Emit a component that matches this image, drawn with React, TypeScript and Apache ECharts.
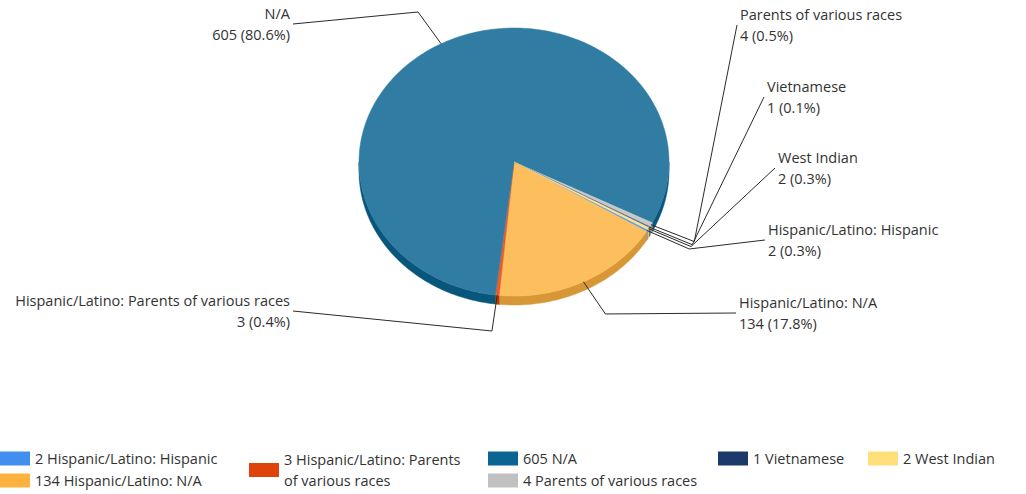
import React, { useEffect, useRef } from "react";
import * as echarts from "echarts";

// ---- data ----
const categories = [
  "Hispanic/Latino: Hispanic",
  "Hispanic/Latino: N/A",
  "Hispanic/Latino: Parents of various races",
  "N/A",
  "Parents of various races",
  "Vietnamese",
  "West Indian",
];
const values = [2, 134, 3, 605, 4, 1, 2];
const colors = ["#3f8ef0", "#fdb240", "#e0420c", "#0b6593", "#c0c0c0", "#1b3a6b", "#ffdf7a"];

// ---- layout (styling only) ----
const CX = 514;
const CY = 162;
const RX = 155;
const RY = 134;
const DEPTH = 9;
const START_ANGLE = 30.3; // screen degrees, clockwise from east
const ELBOW_RX = 204;
const ELBOW_RY = 170;
const labelAnchors: [number, number, "left" | "right"][] = [
  [765, 240, "right"],
  [736, 313, "right"],
  [293, 311, "left"],
  [293, 24, "left"],
  [737, 25, "right"],
  [764, 97, "right"],
  [775, 168, "right"],
];
const legendPos: [number, number][] = [
  [0, 448],
  [0, 470],
  [249, 449],
  [488, 448],
  [488, 470],
  [718, 448],
  [868, 448],
];
const FONT = "'Open Sans', 'Noto Sans', sans-serif";
const FONT_SIZE = 14.5;
const TEXT_COLOR = "#333333";

function hexToRgb(h: string) {
  const n = parseInt(h.slice(1), 16);
  return [(n >> 16) & 255, (n >> 8) & 255, n & 255];
}
function mix(h: string, target: number[], t: number) {
  const c = hexToRgb(h);
  const r = c.map((v, i) => Math.round(v + (target[i] - v) * t));
  return `rgb(${r[0]},${r[1]},${r[2]})`;
}

const total = values.reduce((a, b) => a + b, 0);
const cumulative = values.map((_, i) => values.slice(0, i).reduce((a, b) => a + b, 0));

function pt(deg: number, rx: number, ry: number, dy = 0): number[] {
  const r = (deg * Math.PI) / 180;
  return [CX + rx * Math.cos(r), CY + ry * Math.sin(r) + dy];
}
function arc(a: number, b: number, dy = 0): number[][] {
  const n = Math.max(2, Math.ceil(b - a) + 1);
  const out: number[][] = [];
  for (let k = 0; k < n; k++) {
    out.push(pt(a + ((b - a) * k) / (n - 1), RX, RY, dy));
  }
  return out;
}

function wrapLegend(text: string, maxChars: number) {
  if (text.length <= maxChars) return text;
  const words = text.split(" ");
  let line = "";
  const lines: string[] = [];
  for (const w of words) {
    const next = line ? line + " " + w : w;
    if (next.length > maxChars && line) {
      lines.push(line);
      line = w;
    } else {
      line = next;
    }
  }
  if (line) lines.push(line);
  return lines.join("\n");
}

function makeRenderItem(i: number) {
  return (_params: any, api: any) => {
    const v = api.value(0) as number;
    const a0 = START_ANGLE + (cumulative[i] / total) * 360;
    const a1 = a0 + (v / total) * 360;
    const color = colors[i];
    const topColor = mix(color, [255, 255, 255], 0.15);
    const sideColor = mix(color, [0, 0, 0], 0.15);
    const children: any[] = [];
    for (const k of [0, 360]) {
      const s = Math.max(a0, k);
      const e = Math.min(a1, k + 180);
      if (e > s) {
        const upper = arc(s, e);
        const lower = arc(s, e, DEPTH).reverse();
        children.push({
          type: "polygon",
          shape: { points: upper.concat(lower) },
          style: { fill: sideColor, stroke: sideColor, lineWidth: 0.5 },
          z2: 1,
        });
      }
    }
    children.push({
      type: "polygon",
      shape: { points: [[CX, CY]].concat(arc(a0, a1)) },
      style: { fill: topColor, stroke: topColor, lineWidth: 0.5 },
      z2: 2,
    });
    const mid = (a0 + a1) / 2;
    const [ax, ay, side] = labelAnchors[i];
    children.push({
      type: "polyline",
      shape: { points: [pt(mid, RX, RY), pt(mid, ELBOW_RX, ELBOW_RY), [ax, ay]] },
      style: { stroke: "#2a2a2a", lineWidth: 1, fill: null },
      z2: 3,
    });
    const pct = ((v / total) * 100).toFixed(1);
    children.push({
      type: "text",
      x: side === "right" ? ax + 3 : ax - 3,
      y: ay,
      style: {
        text: `${categories[i]}\n${v} (${pct}%)`,
        fill: TEXT_COLOR,
        fontSize: FONT_SIZE,
        fontFamily: FONT,
        align: side === "right" ? "left" : "right",
        verticalAlign: "middle",
        lineHeight: 21,
      },
      z2: 4,
    });
    return { type: "group", children };
  };
}

export default function App() {
  const ref = useRef<HTMLDivElement>(null);
  useEffect(() => {
    if (!ref.current) return;
    const chart = echarts.init(ref.current, undefined, { renderer: "svg" });
    const series = categories.map((name, i) => ({
      type: "custom",
      name,
      coordinateSystem: "none",
      silent: true,
      itemStyle: { color: colors[i] },
      data: [values[i]],
      renderItem: makeRenderItem(i),
    }));
    const legend = categories.map((name, i) => ({
      data: [{ name, icon: "rect", itemStyle: { color: colors[i] } }],
      left: legendPos[i][0],
      top: legendPos[i][1],
      itemWidth: 30,
      itemHeight: 14,
      itemGap: 0,
      padding: 0,
      selectedMode: false,
      formatter: (n: string) => wrapLegend(`${values[categories.indexOf(n)]} ${n}`, 27),
      textStyle: {
        color: TEXT_COLOR,
        fontSize: FONT_SIZE,
        fontFamily: FONT,
        lineHeight: 21,
      },
    }));
    chart.setOption({
      animation: false,
      backgroundColor: "#ffffff",
      legend,
      series,
    } as any);
    return () => chart.dispose();
  }, []);
  return (
    <div
      ref={ref}
      style={{ position: "absolute", left: 0, top: 0, width: 1026, height: 494 }}
    />
  );
}
